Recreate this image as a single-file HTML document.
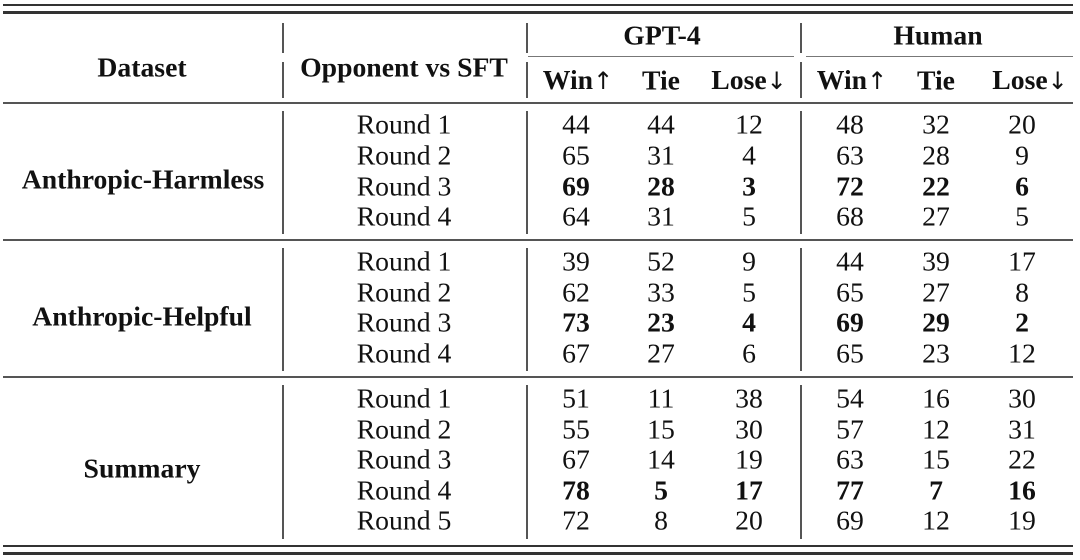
<!DOCTYPE html>
<html><head><meta charset="utf-8"><style>
body{margin:0;width:1080px;height:560px;background:#fff;position:relative;overflow:hidden;font-family:"Liberation Serif",serif;color:#111}
.h{position:absolute;background:#333}
.v{position:absolute;width:2px;background:#555}
.t{position:absolute;font-size:27.7px;line-height:30px;transform:translate(-50%,-51%);white-space:nowrap}
.b{font-weight:bold}
.a{font-family:"DejaVu Sans",sans-serif;font-weight:normal;font-size:24px}
</style></head><body>
<div class="h" style="left:3px;width:1070px;top:4px;height:2px"></div>
<div class="h" style="left:3px;width:1070px;top:11px;height:3px"></div>
<div class="h" style="left:3px;width:1070px;top:102px;height:2px;background:#555"></div>
<div class="h" style="left:3px;width:1070px;top:239px;height:2px;background:#555"></div>
<div class="h" style="left:3px;width:1070px;top:376px;height:2px;background:#555"></div>
<div class="h" style="left:3px;width:1070px;top:545px;height:2px"></div>
<div class="h" style="left:3px;width:1070px;top:552px;height:3px"></div>
<div class="h" style="left:528px;width:266px;top:56px;height:1px;background:#777"></div>
<div class="h" style="left:806px;width:267px;top:56px;height:1px;background:#777"></div>

<div class="v" style="left:282px;top:23px;height:30px"></div>
<div class="v" style="left:282px;top:62px;height:36px"></div>
<div class="v" style="left:526px;top:23px;height:30px"></div>
<div class="v" style="left:526px;top:62px;height:36px"></div>
<div class="v" style="left:800px;top:23px;height:30px"></div>
<div class="v" style="left:800px;top:62px;height:36px"></div>
<div class="v" style="left:282px;top:111px;height:123px"></div>
<div class="v" style="left:526px;top:111px;height:123px"></div>
<div class="v" style="left:800px;top:111px;height:123px"></div>
<div class="v" style="left:282px;top:248px;height:123px"></div>
<div class="v" style="left:526px;top:248px;height:123px"></div>
<div class="v" style="left:800px;top:248px;height:123px"></div>
<div class="v" style="left:282px;top:385px;height:154px"></div>
<div class="v" style="left:526px;top:385px;height:154px"></div>
<div class="v" style="left:800px;top:385px;height:154px"></div>

<div class="t b" style="left:142px;top:68px">Dataset</div>
<div class="t b" style="left:404px;top:68px">Opponent vs SFT</div>
<div class="t b" style="left:662px;top:36px">GPT-4</div>
<div class="t b" style="left:938px;top:36px">Human</div>
<div class="t b" style="left:578px;top:81px">Win<span class="a">↑</span></div>
<div class="t b" style="left:661px;top:81px">Tie</div>
<div class="t b" style="left:749px;top:81px">Lose<span class="a">↓</span></div>
<div class="t b" style="left:852px;top:81px">Win<span class="a">↑</span></div>
<div class="t b" style="left:936px;top:81px">Tie</div>
<div class="t b" style="left:1030px;top:81px">Lose<span class="a">↓</span></div>

<div class="t b" style="left:143px;top:180px">Anthropic-Harmless</div>
<div class="t b" style="left:142px;top:317px">Anthropic-Helpful</div>
<div class="t b" style="left:142px;top:469px">Summary</div>

<div class="t" style="left:404px;top:125px">Round 1</div><div class="t" style="left:576px;top:125px">44</div><div class="t" style="left:661px;top:125px">44</div><div class="t" style="left:749px;top:125px">12</div><div class="t" style="left:850px;top:125px">48</div><div class="t" style="left:936px;top:125px">32</div><div class="t" style="left:1022px;top:125px">20</div>
<div class="t" style="left:404px;top:156px">Round 2</div><div class="t" style="left:576px;top:156px">65</div><div class="t" style="left:661px;top:156px">31</div><div class="t" style="left:749px;top:156px">4</div><div class="t" style="left:850px;top:156px">63</div><div class="t" style="left:936px;top:156px">28</div><div class="t" style="left:1022px;top:156px">9</div>
<div class="t" style="left:404px;top:187px">Round 3</div><div class="t b" style="left:576px;top:187px">69</div><div class="t b" style="left:661px;top:187px">28</div><div class="t b" style="left:749px;top:187px">3</div><div class="t b" style="left:850px;top:187px">72</div><div class="t b" style="left:936px;top:187px">22</div><div class="t b" style="left:1022px;top:187px">6</div>
<div class="t" style="left:404px;top:217px">Round 4</div><div class="t" style="left:576px;top:217px">64</div><div class="t" style="left:661px;top:217px">31</div><div class="t" style="left:749px;top:217px">5</div><div class="t" style="left:850px;top:217px">68</div><div class="t" style="left:936px;top:217px">27</div><div class="t" style="left:1022px;top:217px">5</div>

<div class="t" style="left:404px;top:262px">Round 1</div><div class="t" style="left:576px;top:262px">39</div><div class="t" style="left:661px;top:262px">52</div><div class="t" style="left:749px;top:262px">9</div><div class="t" style="left:850px;top:262px">44</div><div class="t" style="left:936px;top:262px">39</div><div class="t" style="left:1022px;top:262px">17</div>
<div class="t" style="left:404px;top:293px">Round 2</div><div class="t" style="left:576px;top:293px">62</div><div class="t" style="left:661px;top:293px">33</div><div class="t" style="left:749px;top:293px">5</div><div class="t" style="left:850px;top:293px">65</div><div class="t" style="left:936px;top:293px">27</div><div class="t" style="left:1022px;top:293px">8</div>
<div class="t" style="left:404px;top:323px">Round 3</div><div class="t b" style="left:576px;top:323px">73</div><div class="t b" style="left:661px;top:323px">23</div><div class="t b" style="left:749px;top:323px">4</div><div class="t b" style="left:850px;top:323px">69</div><div class="t b" style="left:936px;top:323px">29</div><div class="t b" style="left:1022px;top:323px">2</div>
<div class="t" style="left:404px;top:354px">Round 4</div><div class="t" style="left:576px;top:354px">67</div><div class="t" style="left:661px;top:354px">27</div><div class="t" style="left:749px;top:354px">6</div><div class="t" style="left:850px;top:354px">65</div><div class="t" style="left:936px;top:354px">23</div><div class="t" style="left:1022px;top:354px">12</div>

<div class="t" style="left:404px;top:399px">Round 1</div><div class="t" style="left:576px;top:399px">51</div><div class="t" style="left:661px;top:399px">11</div><div class="t" style="left:749px;top:399px">38</div><div class="t" style="left:850px;top:399px">54</div><div class="t" style="left:936px;top:399px">16</div><div class="t" style="left:1022px;top:399px">30</div>
<div class="t" style="left:404px;top:430px">Round 2</div><div class="t" style="left:576px;top:430px">55</div><div class="t" style="left:661px;top:430px">15</div><div class="t" style="left:749px;top:430px">30</div><div class="t" style="left:850px;top:430px">57</div><div class="t" style="left:936px;top:430px">12</div><div class="t" style="left:1022px;top:430px">31</div>
<div class="t" style="left:404px;top:460px">Round 3</div><div class="t" style="left:576px;top:460px">67</div><div class="t" style="left:661px;top:460px">14</div><div class="t" style="left:749px;top:460px">19</div><div class="t" style="left:850px;top:460px">63</div><div class="t" style="left:936px;top:460px">15</div><div class="t" style="left:1022px;top:460px">22</div>
<div class="t" style="left:404px;top:491px">Round 4</div><div class="t b" style="left:576px;top:491px">78</div><div class="t b" style="left:661px;top:491px">5</div><div class="t b" style="left:749px;top:491px">17</div><div class="t b" style="left:850px;top:491px">77</div><div class="t b" style="left:936px;top:491px">7</div><div class="t b" style="left:1022px;top:491px">16</div>
<div class="t" style="left:404px;top:521px">Round 5</div><div class="t" style="left:576px;top:521px">72</div><div class="t" style="left:661px;top:521px">8</div><div class="t" style="left:749px;top:521px">20</div><div class="t" style="left:850px;top:521px">69</div><div class="t" style="left:936px;top:521px">12</div><div class="t" style="left:1022px;top:521px">19</div>
</body></html>
